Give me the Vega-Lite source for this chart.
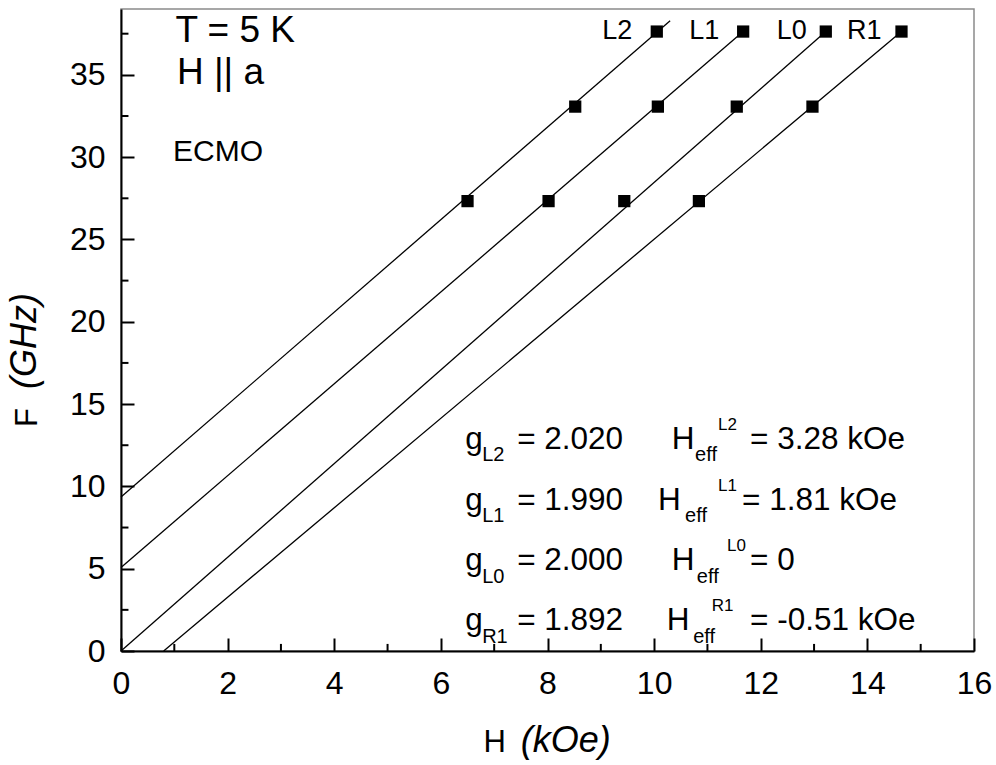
{
  "$schema": "https://vega.github.io/schema/vega-lite/v6.json",
  "width": 853,
  "height": 642,
  "autosize": {"type": "none"},
  "padding": {"left": 121, "top": 9, "right": 22, "bottom": 114},
  "background": "white",
  "config": {
    "view": {"stroke": "#8a8a8a", "strokeWidth": 1.5},
    "axis": {
      "grid": false,
      "domainColor": "black",
      "domainWidth": 2,
      "tickColor": "black",
      "tickWidth": 2,
      "labelFont": "Liberation Sans",
      "labelFontSize": 32,
      "labelColor": "black",
      "titleFont": "Liberation Sans",
      "titleFontSize": 31,
      "titleFontWeight": "normal",
      "titleColor": "black"
    },
    "text": {"font": "Liberation Sans", "color": "black"}
  },
  "datasets": {
    "lines": [
      {"series": "L2", "H": 0, "F": 9.35},
      {"series": "L2", "H": 10.30, "F": 38.28},
      {"series": "L1", "H": 0, "F": 5.07},
      {"series": "L1", "H": 11.67, "F": 37.63},
      {"series": "L0", "H": 0, "F": 0},
      {"series": "L0", "H": 13.22, "F": 37.63},
      {"series": "R1", "H": 0.80, "F": 0},
      {"series": "R1", "H": 14.64, "F": 37.63}
    ],
    "points": [
      {"series": "L2", "H": 6.50, "F": 27.33},
      {"series": "L2", "H": 8.52, "F": 33.07},
      {"series": "L2", "H": 10.05, "F": 37.63},
      {"series": "L1", "H": 8.02, "F": 27.33},
      {"series": "L1", "H": 10.07, "F": 33.07},
      {"series": "L1", "H": 11.67, "F": 37.63},
      {"series": "L0", "H": 9.44, "F": 27.33},
      {"series": "L0", "H": 11.55, "F": 33.07},
      {"series": "L0", "H": 13.22, "F": 37.63},
      {"series": "R1", "H": 10.84, "F": 27.33},
      {"series": "R1", "H": 12.97, "F": 33.07},
      {"series": "R1", "H": 14.64, "F": 37.63}
    ],
    "minorX": [
      {"H": 1, "F": 0}, {"H": 3, "F": 0}, {"H": 5, "F": 0}, {"H": 7, "F": 0},
      {"H": 9, "F": 0}, {"H": 11, "F": 0}, {"H": 13, "F": 0}, {"H": 15, "F": 0}
    ],
    "minorY": [
      {"H": 0, "F": 2.5}, {"H": 0, "F": 7.5}, {"H": 0, "F": 12.5}, {"H": 0, "F": 17.5},
      {"H": 0, "F": 22.5}, {"H": 0, "F": 27.5}, {"H": 0, "F": 32.5}, {"H": 0, "F": 37.5}
    ],
    "notes": [
      {"role": "big", "text": "T = 5 K", "H": 1.02, "F": 36.98},
      {"role": "big", "text": "H || a", "H": 1.05, "F": 34.43},
      {"role": "ecmo", "text": "ECMO", "H": 0.975, "F": 29.76},
      {"role": "series", "text": "L2", "H": 9.31, "F": 37.17},
      {"role": "series", "text": "L1", "H": 10.94, "F": 37.17},
      {"role": "series", "text": "L0", "H": 12.58, "F": 37.17},
      {"role": "series", "text": "R1", "H": 13.94, "F": 37.17},

      {"role": "main", "text": "g", "H": 6.456, "F": 12.29},
      {"role": "sub", "text": "L2", "H": 6.774, "F": 11.52},
      {"role": "main", "text": "= 2.020", "H": 7.431, "F": 12.29},
      {"role": "main", "text": "H", "H": 10.332, "F": 12.29},
      {"role": "sub", "text": "eff", "H": 10.768, "F": 11.52},
      {"role": "sup", "text": "L2", "H": 11.2, "F": 13.45},
      {"role": "main", "text": "= 3.28 kOe", "H": 11.8, "F": 12.29},

      {"role": "main", "text": "g", "H": 6.456, "F": 8.58},
      {"role": "sub", "text": "L1", "H": 6.774, "F": 7.81},
      {"role": "main", "text": "= 1.990", "H": 7.431, "F": 8.58},
      {"role": "main", "text": "H", "H": 10.075, "F": 8.58},
      {"role": "sub", "text": "eff", "H": 10.581, "F": 7.81},
      {"role": "sup", "text": "L1", "H": 11.2, "F": 9.74},
      {"role": "main", "text": "= 1.81 kOe", "H": 11.65, "F": 8.58},

      {"role": "main", "text": "g", "H": 6.456, "F": 4.93},
      {"role": "sub", "text": "L0", "H": 6.774, "F": 4.16},
      {"role": "main", "text": "= 2.000", "H": 7.431, "F": 4.93},
      {"role": "main", "text": "H", "H": 10.332, "F": 4.93},
      {"role": "sub", "text": "eff", "H": 10.801, "F": 4.16},
      {"role": "sup", "text": "L0", "H": 11.369, "F": 6.09},
      {"role": "main", "text": "= 0", "H": 11.8, "F": 4.93},

      {"role": "main", "text": "g", "H": 6.456, "F": 1.28},
      {"role": "sub", "text": "R1", "H": 6.774, "F": 0.51},
      {"role": "main", "text": "= 1.892", "H": 7.431, "F": 1.28},
      {"role": "main", "text": "H", "H": 10.238, "F": 1.28},
      {"role": "sub", "text": "eff", "H": 10.732, "F": 0.51},
      {"role": "sup", "text": "R1", "H": 11.082, "F": 2.44},
      {"role": "main", "text": "= -0.51 kOe", "H": 11.8, "F": 1.28},

      {"role": "xunit", "text": "(kOe)", "H": 7.497, "F": -6.12},
      {"role": "yunit", "text": "(GHz)", "H": -1.588, "F": 18.83}
    ]
  },
  "layer": [
    {
      "data": {"name": "lines"},
      "mark": {"type": "line", "color": "black", "strokeWidth": 1.3},
      "encoding": {
        "x": {
          "field": "H", "type": "quantitative",
          "scale": {"domain": [0, 16], "nice": false, "zero": false},
          "axis": {
            "title": "H",
            "titleX": 362, "titleY": 100.7, "titleAlign": "left", "titleBaseline": "alphabetic",
            "values": [0, 2, 4, 6, 8, 10, 12, 14, 16],
            "tickSize": -13,
            "labelPadding": 30,
            "labelFlush": false
          }
        },
        "y": {
          "field": "F", "type": "quantitative",
          "scale": {"domain": [0, 39], "nice": false, "zero": false},
          "axis": {
            "title": "F",
            "titleX": -85, "titleY": 408, "titleAlign": "center", "titleBaseline": "alphabetic", "titleAngle": 270,
            "values": [0, 5, 10, 15, 20, 25, 30, 35],
            "tickSize": -13,
            "labelPadding": 29,
            "labelFlush": false
          }
        },
        "detail": {"field": "series", "type": "nominal"}
      }
    },
    {
      "data": {"name": "minorX"},
      "mark": {"type": "rule", "color": "black", "strokeWidth": 2, "opacity": 1},
      "encoding": {
        "x": {"field": "H", "type": "quantitative"},
        "y": {"field": "F", "type": "quantitative"},
        "y2": {"datum": 0.43}
      }
    },
    {
      "data": {"name": "minorY"},
      "mark": {"type": "rule", "color": "black", "strokeWidth": 2, "opacity": 1},
      "encoding": {
        "x": {"field": "H", "type": "quantitative"},
        "y": {"field": "F", "type": "quantitative"},
        "x2": {"datum": 0.14}
      }
    },
    {
      "data": {"name": "points"},
      "mark": {"type": "point", "shape": "square", "filled": true, "color": "black", "size": 150, "opacity": 1},
      "encoding": {
        "x": {"field": "H", "type": "quantitative"},
        "y": {"field": "F", "type": "quantitative"}
      }
    },
    {
      "data": {"name": "notes"},
      "transform": [{"filter": "datum.role === 'big'"}],
      "mark": {"type": "text", "align": "left", "baseline": "alphabetic", "fontSize": 37},
      "encoding": {
        "x": {"field": "H", "type": "quantitative"},
        "y": {"field": "F", "type": "quantitative"},
        "text": {"field": "text"}
      }
    },
    {
      "data": {"name": "notes"},
      "transform": [{"filter": "datum.role === 'ecmo'"}],
      "mark": {"type": "text", "align": "left", "baseline": "alphabetic", "fontSize": 30},
      "encoding": {
        "x": {"field": "H", "type": "quantitative"},
        "y": {"field": "F", "type": "quantitative"},
        "text": {"field": "text"}
      }
    },
    {
      "data": {"name": "notes"},
      "transform": [{"filter": "datum.role === 'series'"}],
      "mark": {"type": "text", "align": "center", "baseline": "alphabetic", "fontSize": 27},
      "encoding": {
        "x": {"field": "H", "type": "quantitative"},
        "y": {"field": "F", "type": "quantitative"},
        "text": {"field": "text"}
      }
    },
    {
      "data": {"name": "notes"},
      "transform": [{"filter": "datum.role === 'main'"}],
      "mark": {"type": "text", "align": "left", "baseline": "alphabetic", "fontSize": 31.5},
      "encoding": {
        "x": {"field": "H", "type": "quantitative"},
        "y": {"field": "F", "type": "quantitative"},
        "text": {"field": "text"}
      }
    },
    {
      "data": {"name": "notes"},
      "transform": [{"filter": "datum.role === 'sub'"}],
      "mark": {"type": "text", "align": "left", "baseline": "alphabetic", "fontSize": 20},
      "encoding": {
        "x": {"field": "H", "type": "quantitative"},
        "y": {"field": "F", "type": "quantitative"},
        "text": {"field": "text"}
      }
    },
    {
      "data": {"name": "notes"},
      "transform": [{"filter": "datum.role === 'sup'"}],
      "mark": {"type": "text", "align": "left", "baseline": "alphabetic", "fontSize": 17},
      "encoding": {
        "x": {"field": "H", "type": "quantitative"},
        "y": {"field": "F", "type": "quantitative"},
        "text": {"field": "text"}
      }
    },
    {
      "data": {"name": "notes"},
      "transform": [{"filter": "datum.role === 'xunit'"}],
      "mark": {"type": "text", "align": "left", "baseline": "alphabetic", "fontSize": 36, "fontStyle": "italic"},
      "encoding": {
        "x": {"field": "H", "type": "quantitative"},
        "y": {"field": "F", "type": "quantitative"},
        "text": {"field": "text"}
      }
    },
    {
      "data": {"name": "notes"},
      "transform": [{"filter": "datum.role === 'yunit'"}],
      "mark": {"type": "text", "align": "center", "baseline": "alphabetic", "fontSize": 36, "fontStyle": "italic", "angle": 270},
      "encoding": {
        "x": {"field": "H", "type": "quantitative"},
        "y": {"field": "F", "type": "quantitative"},
        "text": {"field": "text"}
      }
    }
  ]
}
